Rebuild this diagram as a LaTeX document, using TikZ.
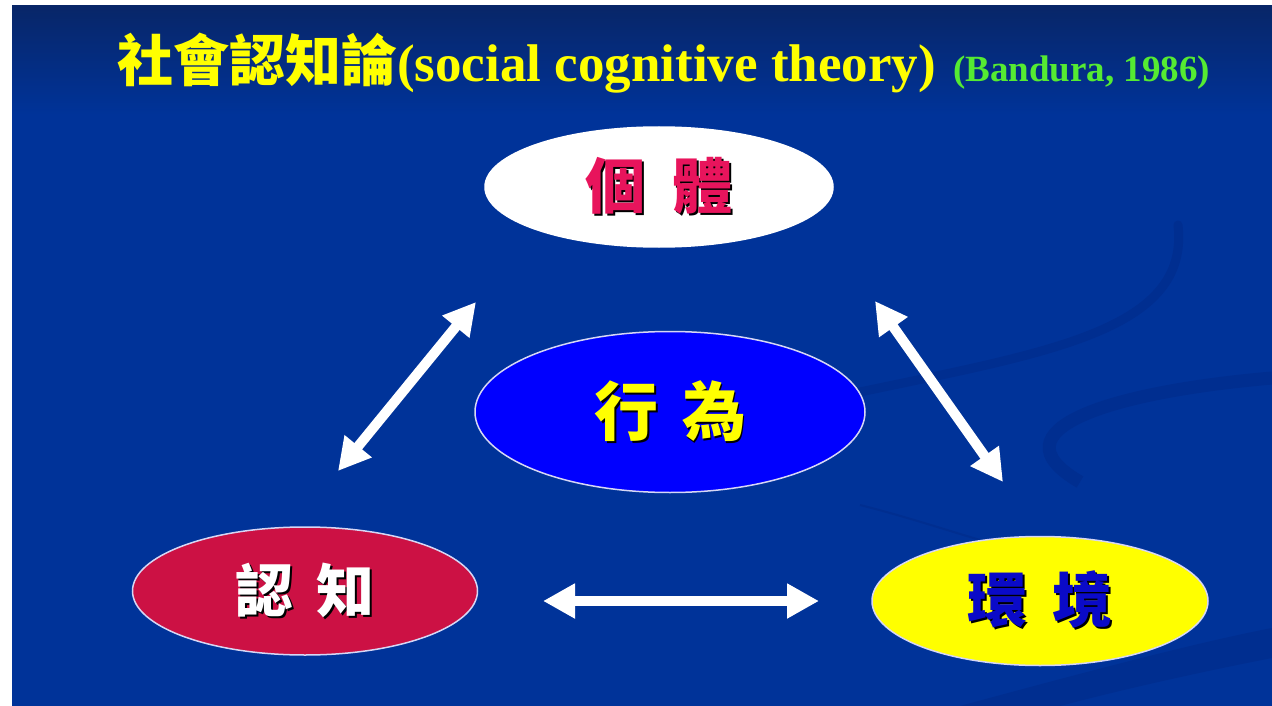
\documentclass[tikz,border=0pt]{standalone}
\usepackage{fontspec}
\setmainfont{Liberation Serif}
\newfontfamily\cjk{Noto Sans CJK TC}
\usetikzlibrary{arrows.meta,shapes.geometric}
\definecolor{bgblue}{RGB}{0,51,153}
\definecolor{bgtop}{RGB}{8,38,104}
\definecolor{swoosh}{RGB}{0,46,144}
\definecolor{ttlyellow}{RGB}{255,255,0}
\definecolor{citegreen}{RGB}{85,235,50}
\definecolor{indpink}{RGB}{232,20,92}
\definecolor{cogred}{RGB}{204,17,68}
\definecolor{behblue}{RGB}{0,0,255}
\definecolor{envyellow}{RGB}{255,255,0}
\definecolor{envtext}{RGB}{10,10,200}
\definecolor{rimcol}{RGB}{215,215,245}
\newcommand{\shtext}[1]{\leavevmode\rlap{\kern2pt\raisebox{-2pt}{\textcolor{black}{#1}}}#1}
\tikzset{
  ellnode/.style={ellipse, draw=rimcol, line width=1.5pt, inner sep=0pt},
  elltext/.style={font=\cjk\bfseries\fontsize{#1}{#1}\selectfont},
  dblarrow/.style={draw=white, line width=10pt,
    {Triangle[length=32pt,width=33pt]}-{Triangle[length=32pt,width=33pt]}},
}
\begin{document}
\begin{tikzpicture}[x=1pt,y=-1pt]
\useasboundingbox (0,0) rectangle (1272,706);
\fill[white] (0,0) rectangle (1272,706);
\fill[bgblue] (12,6) rectangle (1272,706);
\shade[top color=bgtop, bottom color=bgblue] (12,6) rectangle (1272,115);
% background swooshes
\draw[swoosh, line width=9pt, line cap=round] (860,392) .. controls (1050,352) and (1190,330) .. (1178,225);
\draw[swoosh, line width=13pt] (1272,378) .. controls (1110,392) and (990,430) .. (1080,482);
\fill[swoosh] (960,706) .. controls (1100,668) and (1200,642) .. (1272,628) -- (1272,658) .. controls (1200,672) and (1120,690) .. (1060,706) -- cycle;
\draw[swoosh, line width=2pt] (860,505) .. controls (900,515) and (940,528) .. (980,540);
% title
\node[anchor=base west, inner sep=0pt, text=ttlyellow] (title) at (117,82)
  {{\cjk\bfseries\fontsize{56}{56}\selectfont 社會認知論}{\bfseries\fontsize{53}{53}\selectfont(social cognitive theory)}};
\node[anchor=base west, inner sep=0pt, text=citegreen, font=\bfseries\fontsize{37}{37}\selectfont] (cite) at (953,82) {(Bandura, 1986)};
% ellipses
\node[ellnode, draw=white, fill=white, minimum width=348pt, minimum height=120pt, text=indpink, elltext=60] (ind) at (659,187) {\shtext{個\hspace{28pt}體}};
\node[ellnode, fill=behblue, minimum width=390pt, minimum height=161pt, text=ttlyellow, elltext=64] (beh) at (670,412) {\shtext{行\hspace{24pt}為}};
\node[ellnode, fill=cogred, minimum width=345pt, minimum height=128pt, text=white, elltext=58] (cog) at (305,591) {\shtext{認\hspace{24pt}知}};
\node[ellnode, fill=envyellow, minimum width=336pt, minimum height=129pt, text=envtext, elltext=60] (env) at (1040,601) {\shtext{環\hspace{26pt}境}};
% arrows
\coordinate (a1s) at (338,471);
\coordinate (a1e) at (476,302);
\coordinate (a2s) at (875,301);
\coordinate (a2e) at (1003,482);
\coordinate (a3s) at (543,601);
\coordinate (a3e) at (819,601);
\draw[dblarrow] (a1s) -- (a1e);
\draw[dblarrow] (a2s) -- (a2e);
\draw[dblarrow] (a3s) -- (a3e);
\end{tikzpicture}
\end{document}
